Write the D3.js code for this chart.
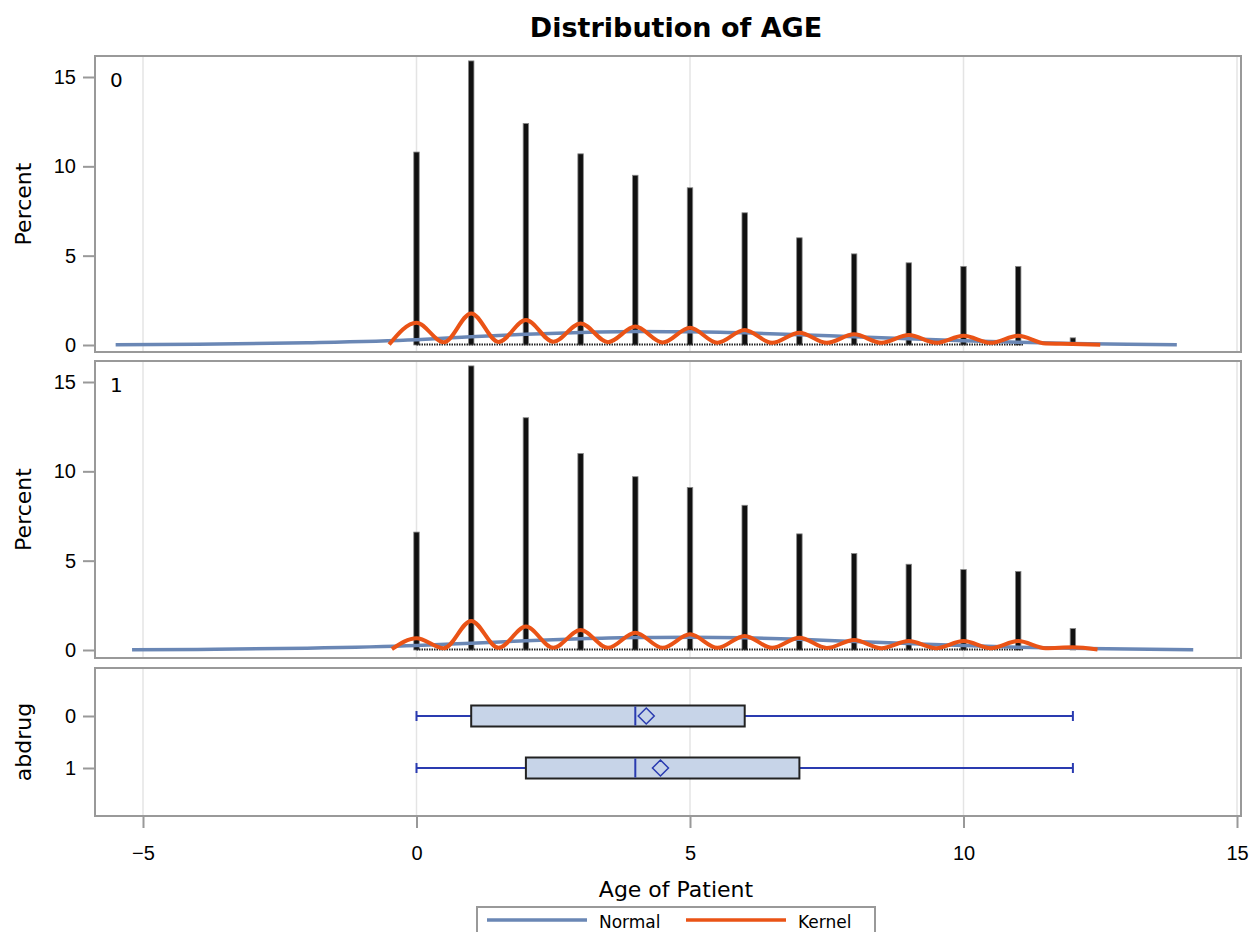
<!DOCTYPE html>
<html>
<head>
<meta charset="utf-8">
<script src="https://cdn.jsdelivr.net/npm/d3@7"></script>
<style>
  body { margin: 0; background: #fff; }
  svg { font-family: "DejaVu Sans", Verdana, sans-serif; }
</style>
</head>
<body>
<svg width="1257" height="932"></svg>
<script>
// ---- data ----
var ages = [0, 1, 2, 3, 4, 5, 6, 7, 8, 9, 10, 11, 12];
var pct0 = [10.8, 15.9, 12.4, 10.7, 9.5, 8.8, 7.4, 6.0, 5.1, 4.6, 4.4, 4.4, 0.4];
var pct1 = [6.6, 15.9, 13.0, 11.0, 9.7, 9.1, 8.1, 6.5, 5.4, 4.8, 4.5, 4.4, 1.2];

var normX0 = [-5.5, -4, -2, 0, 1, 2, 3, 4, 5, 6, 7, 8, 9, 10, 11, 12, 13, 13.9];
var norm0  = [0.01, 0.04, 0.13, 0.30, 0.46, 0.60, 0.70, 0.75, 0.74, 0.68, 0.58, 0.46, 0.35, 0.24, 0.15, 0.09, 0.04, 0.02];
var normX1 = [-5.2, -4, -2, 0, 1, 2, 3, 4, 5, 6, 7, 8, 9, 10, 11, 12, 13, 14.2];
var norm1  = [0.01, 0.03, 0.10, 0.25, 0.38, 0.52, 0.63, 0.70, 0.71, 0.68, 0.60, 0.48, 0.36, 0.25, 0.16, 0.10, 0.05, 0.01];

var kernX0 = [-0.5, 0, 0.5, 1, 1.5, 2, 2.5, 3, 3.5, 4, 4.5, 5, 5.5, 6, 6.5, 7, 7.5, 8, 8.5, 9, 9.5, 10, 10.5, 11, 11.5, 12, 12.5];
var kern0  = [0.03, 1.25, 0.15, 1.77, 0.17, 1.40, 0.18, 1.21, 0.16, 1.03, 0.14, 0.97, 0.13, 0.84, 0.12, 0.69, 0.12, 0.60, 0.12, 0.56, 0.12, 0.52, 0.12, 0.52, 0.08, 0.06, 0.02];
var kernX1 = [-0.45, 0, 0.5, 1, 1.5, 2, 2.5, 3, 3.5, 4, 4.5, 5, 5.5, 6, 6.5, 7, 7.5, 8, 8.5, 9, 9.5, 10, 10.5, 11, 11.5, 12, 12.45];
var kern1  = [0.05, 0.66, 0.10, 1.63, 0.12, 1.31, 0.12, 1.12, 0.12, 0.97, 0.12, 0.88, 0.12, 0.79, 0.12, 0.69, 0.11, 0.56, 0.10, 0.50, 0.10, 0.50, 0.10, 0.50, 0.10, 0.15, 0.03];

// box plot stats per abdrug group
var groups  = ["0", "1"];
var boxMin  = [0, 0];
var boxQ1   = [1, 2];
var boxMed  = [4, 4];
var boxMean = [4.2, 4.46];
var boxQ3   = [6, 7];
var boxMax  = [12, 12];

var xTicks = [-5, 0, 5, 10, 15];
var yTicks = [0, 5, 10, 15];

// ---- layout ----
var svg = d3.select("svg");
var frameL = 95, frameR = 1241;
var panels = [
  { top: 56,  bottom: 352, zero: 345, label: "0", pct: pct0, nx: normX0, ny: norm0, kx: kernX0, ky: kern0 },
  { top: 361, bottom: 658, zero: 650, label: "1", pct: pct1, nx: normX1, ny: norm1, kx: kernX1, ky: kern1 }
];
var boxTop = 668, boxBottom = 816;

var x = d3.scaleLinear().domain([-5, 15]).range([143, 1237]);

var normalColor = "#6a87b5",
    kernelColor = "#ea5316",
    frameColor = "#999",
    gridColor = "#e4e4e4";

// title
svg.append("text")
    .attr("x", 676).attr("y", 37)
    .attr("text-anchor", "middle")
    .style("font-weight", "bold")
    .style("font-size", "27px")
    .text("Distribution of AGE");

function drawGrid(g, top, bottom) {
  g.selectAll("line.grid")
    .data(xTicks)
    .enter().append("line")
      .attr("class", "grid")
      .attr("x1", function(d) { return x(d); })
      .attr("x2", function(d) { return x(d); })
      .attr("y1", top + 1).attr("y2", bottom - 1)
      .attr("stroke", gridColor)
      .attr("stroke-width", 1.5);
}

function drawFrame(g, top, bottom) {
  g.append("rect")
    .attr("x", frameL).attr("y", top)
    .attr("width", frameR - frameL).attr("height", bottom - top)
    .attr("fill", "none")
    .attr("stroke", frameColor)
    .attr("stroke-width", 2);
}

panels.forEach(function(p) {
  var g = svg.append("g");
  var y = d3.scaleLinear().domain([0, 15]).range([p.zero, p.zero - 268]);

  drawGrid(g, p.top, p.bottom);

  // histogram bars
  var barW = x(0.1) - x(0);
  g.selectAll("rect.bar")
    .data(ages)
    .enter().append("rect")
      .attr("class", "bar")
      .attr("x", function(d) { return x(d) - barW / 2; })
      .attr("y", function(d, i) { return y(p.pct[i]); })
      .attr("width", barW)
      .attr("height", function(d, i) { return y(0) - y(p.pct[i]); })
      .attr("fill", "#111")
      .attr("stroke", "#888")
      .attr("stroke-width", 0.8);

  // empty bins along the baseline
  g.append("line")
    .attr("x1", x(ages[0])).attr("x2", x(ages[ages.length - 2]) + barW)
    .attr("y1", y(0) - 0.5).attr("y2", y(0) - 0.5)
    .attr("stroke", "#222")
    .attr("stroke-width", 2)
    .attr("stroke-dasharray", "1.5,1");

  var normLine = d3.line()
      .x(function(d, i) { return x(p.nx[i]); })
      .y(function(d) { return y(d); })
      .curve(d3.curveMonotoneX);
  g.append("path")
    .attr("d", normLine(p.ny))
    .attr("fill", "none")
    .attr("stroke", normalColor)
    .attr("stroke-width", 3.5);

  var kernLine = d3.line()
      .x(function(d, i) { return x(p.kx[i]); })
      .y(function(d) { return y(d); })
      .curve(d3.curveMonotoneX);
  g.append("path")
    .attr("d", kernLine(p.ky))
    .attr("fill", "none")
    .attr("stroke", kernelColor)
    .attr("stroke-width", 4);

  drawFrame(g, p.top, p.bottom);

  // y axis
  var ax = g.append("g")
      .attr("transform", "translate(" + (frameL - 1) + ",0)")
      .call(d3.axisLeft(y).tickValues(yTicks).tickSize(11).tickPadding(7));
  ax.select(".domain").remove();
  ax.selectAll("line").attr("stroke", frameColor).attr("stroke-width", 2);
  ax.selectAll("text").style("font-size", "20px").attr("fill", "#000").attr("font-family", null);

  svg.append("text")
    .attr("transform", "translate(31," + ((p.top + p.bottom) / 2) + ") rotate(-90)")
    .attr("text-anchor", "middle")
    .style("font-size", "22px")
    .text("Percent");

  g.append("text")
    .attr("x", 110).attr("y", p.top + 31)
    .style("font-size", "20px")
    .text(p.label);
});

// ---- box plot panel ----
var gb = svg.append("g");
var yb = d3.scalePoint().domain(groups).range([716, 768]);
var boxH = 21;
var whiskColor = "#2a3bb0";

drawGrid(gb, boxTop, boxBottom);

var bx = gb.selectAll("g.box")
  .data(groups)
  .enter().append("g")
    .attr("class", "box")
    .attr("transform", function(d) { return "translate(0," + yb(d) + ")"; });

bx.append("line")
    .attr("x1", function(d, i) { return x(boxMin[i]); })
    .attr("x2", function(d, i) { return x(boxMax[i]); })
    .attr("stroke", whiskColor).attr("stroke-width", 2);
bx.append("line")
    .attr("x1", function(d, i) { return x(boxMin[i]); })
    .attr("x2", function(d, i) { return x(boxMin[i]); })
    .attr("y1", -5).attr("y2", 5)
    .attr("stroke", whiskColor).attr("stroke-width", 2);
bx.append("line")
    .attr("x1", function(d, i) { return x(boxMax[i]); })
    .attr("x2", function(d, i) { return x(boxMax[i]); })
    .attr("y1", -5).attr("y2", 5)
    .attr("stroke", whiskColor).attr("stroke-width", 2);
bx.append("rect")
    .attr("x", function(d, i) { return x(boxQ1[i]); })
    .attr("y", -boxH / 2)
    .attr("width", function(d, i) { return x(boxQ3[i]) - x(boxQ1[i]); })
    .attr("height", boxH)
    .attr("fill", "#c7d4e8")
    .attr("stroke", "#222")
    .attr("stroke-width", 2);
bx.append("line")
    .attr("x1", function(d, i) { return x(boxMed[i]); })
    .attr("x2", function(d, i) { return x(boxMed[i]); })
    .attr("y1", -boxH / 2 + 1).attr("y2", boxH / 2 - 1)
    .attr("stroke", whiskColor).attr("stroke-width", 2);
bx.append("path")
    .attr("d", function(d, i) {
      var cx = x(boxMean[i]), r = 8;
      return "M" + cx + "," + (-r) + "L" + (cx + r) + ",0L" + cx + "," + r + "L" + (cx - r) + ",0Z";
    })
    .attr("fill", "none")
    .attr("stroke", whiskColor)
    .attr("stroke-width", 1.5);

drawFrame(gb, boxTop, boxBottom);

var axb = gb.append("g")
    .attr("transform", "translate(" + (frameL - 1) + ",0)")
    .call(d3.axisLeft(yb).tickSize(11).tickPadding(7));
axb.select(".domain").remove();
axb.selectAll("line").attr("stroke", frameColor).attr("stroke-width", 2);
axb.selectAll("text").style("font-size", "20px").attr("fill", "#000").attr("font-family", null);

svg.append("text")
  .attr("transform", "translate(31," + ((boxTop + boxBottom) / 2) + ") rotate(-90)")
  .attr("text-anchor", "middle")
  .style("font-size", "22px")
  .text("abdrug");

// x axis
var axx = svg.append("g")
    .attr("transform", "translate(0," + (boxBottom + 1) + ")")
    .call(d3.axisBottom(x).tickValues(xTicks).tickSize(11).tickPadding(18));
axx.select(".domain").remove();
axx.selectAll("line").attr("stroke", frameColor).attr("stroke-width", 2);
axx.selectAll("text").style("font-size", "20px").attr("fill", "#000").attr("font-family", null);

svg.append("text")
  .attr("x", 676).attr("y", 897)
  .attr("text-anchor", "middle")
  .style("font-size", "22px")
  .text("Age of Patient");

// legend
var lg = svg.append("g");
lg.append("rect")
  .attr("x", 477).attr("y", 907)
  .attr("width", 398).attr("height", 40)
  .attr("fill", "none")
  .attr("stroke", frameColor)
  .attr("stroke-width", 2);
var legendItems = [
  { name: "Normal", color: normalColor, x: 487 },
  { name: "Kernel", color: kernelColor, x: 686 }
];
legendItems.forEach(function(d) {
  lg.append("line")
    .attr("x1", d.x).attr("x2", d.x + 100)
    .attr("y1", 920).attr("y2", 920)
    .attr("stroke", d.color)
    .attr("stroke-width", 3.5);
  lg.append("text")
    .attr("x", d.x + 112).attr("y", 928)
    .style("font-size", "17px")
    .text(d.name);
});
</script>
</body>
</html>
